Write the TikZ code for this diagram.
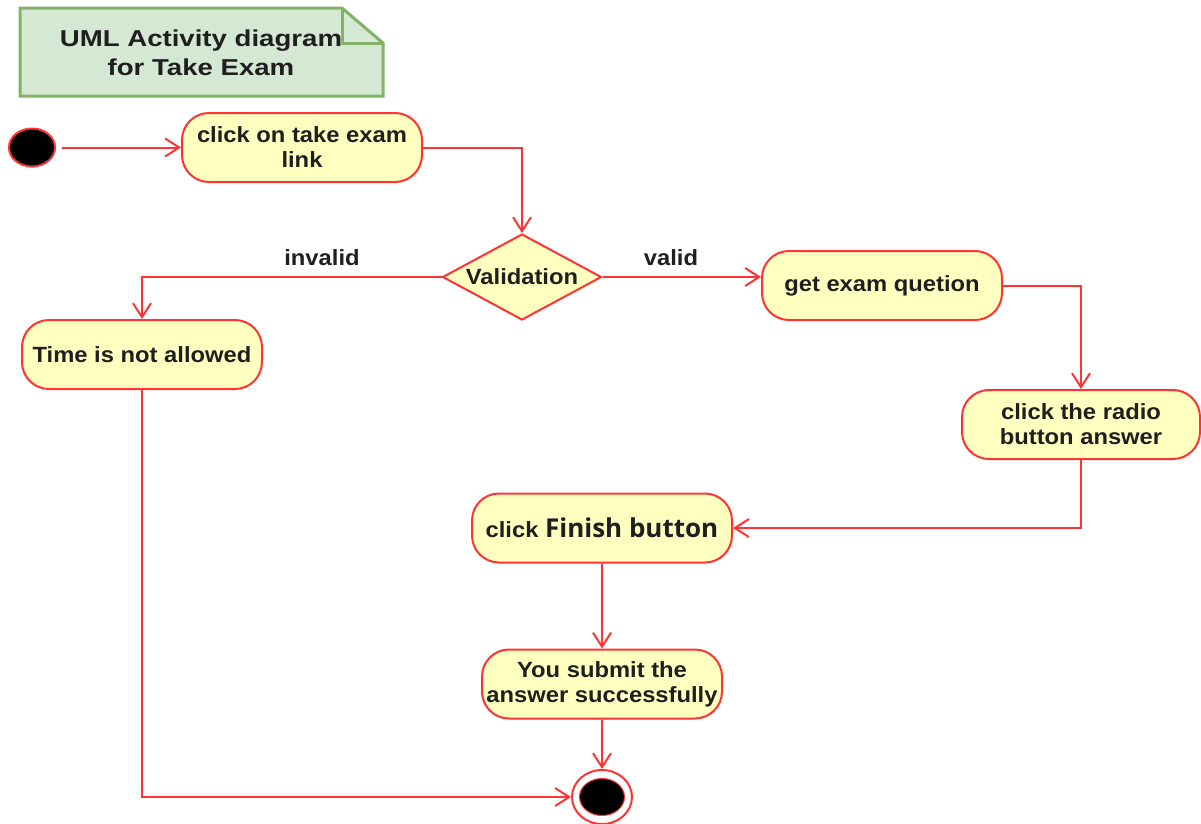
\documentclass[tikz,border=0pt]{standalone}
\usepackage{fontspec}
\setmainfont{Liberation Sans}
\newfontfamily\nodefont[FakeStretch=1.08]{Liberation Sans}
\newfontfamily\titlefont[FakeStretch=1.2]{Liberation Sans}
\newfontfamily\finfont{Open Sans}
\usetikzlibrary{shapes.geometric,arrows.meta}
\definecolor{actfill}{HTML}{FFFFC0}
\definecolor{actline}{HTML}{FF3333}
\definecolor{notefill}{HTML}{D5E8D4}
\definecolor{noteline}{HTML}{82B366}
\definecolor{txt}{HTML}{1F1F1F}
\tikzset{
  act/.style={draw=actline, fill=actfill, line width=2pt, rounded corners=27pt,
    minimum width=240pt, minimum height=69pt, inner sep=0pt, align=center,
    text=txt, font=\nodefont\bfseries\fontsize{22pt}{25pt}\selectfont},
  decision/.style={draw=actline, fill=actfill, line width=2pt, diamond, aspect=1.85,
    minimum width=159pt, minimum height=86pt, inner sep=0pt},
  lbl/.style={text=txt, font=\nodefont\bfseries\fontsize{22pt}{25pt}\selectfont, inner sep=0pt},
  flow/.style={draw=actline, line width=2pt, -{Straight Barb[length=14pt,width=18pt]}},
}
\begin{document}
\begin{tikzpicture}[x=1pt,y=-1pt]
\fill[white] (0,0) rectangle (1201,823);
\useasboundingbox (0,0) rectangle (1201,823);
% title note
\filldraw[fill=notefill, draw=noteline, line width=3pt, line join=miter]
  (20,8) -- (342,8) -- (383,43) -- (383,96) -- (20,96) -- cycle;
\draw[draw=noteline, line width=3pt] (342,8) -- (342,43) -- (383,43);
\node[text=txt, align=center, inner sep=0pt, font=\titlefont\bfseries\fontsize{23pt}{29pt}\selectfont]
  (title) at (201,53) {UML Activity diagram\\for Take Exam};
% start
\node[ellipse, draw=actline, fill=black, line width=2pt, minimum width=46pt, minimum height=38pt, inner sep=0pt]
  (start) at (32,147.5) {};
% activities
\node[act] (n1) at (302,147.5) {click on take exam\\link};
\node[decision, label={[lbl]center:Validation}] (val) at (522,277) {};
\node[act] (exam) at (882,285.5) {get exam quetion};
\node[act] (time) at (142,354.5) {Time is not allowed};
\node[act, minimum width=238pt] (radio) at (1081,424.5) {click the radio\\button answer};
\node[act, minimum width=260pt] (finish) at (602,528) {click {\finfont\bfseries\fontsize{26pt}{25pt}\selectfont Finish button}};
\node[act] (submit) at (602,684) {You submit the\\answer successfully};
% end
\node[ellipse, draw=actline, fill=white, line width=2pt, minimum width=60pt, minimum height=54pt, inner sep=0pt]
  (end) at (602,797) {};
\node[ellipse, draw=actline, fill=black, line width=1pt, minimum width=45pt, minimum height=37pt, inner sep=0pt]
  (endin) at (end.center) {};
% labels
\node[lbl] (linvalid) at (322,258) {invalid};
\node[lbl] (lvalid) at (671,258) {valid};
% connectors
\draw[flow, shorten <=6pt] (start.east) -- (n1.west);
\draw[flow] (n1.east) -| (val.north);
\draw[flow] (val.east) -- (val.east -| exam.west);
\draw[flow] (val.west) -| (time.north);
\draw[flow] (exam.east) -| (radio.north);
\draw[flow] (radio.south) |- (finish.east);
\draw[flow] (finish.south) -- (submit.north);
\draw[flow] (submit.south) -- (end.north);
\draw[flow] (time.south) |- (end.west);
\end{tikzpicture}
\end{document}
